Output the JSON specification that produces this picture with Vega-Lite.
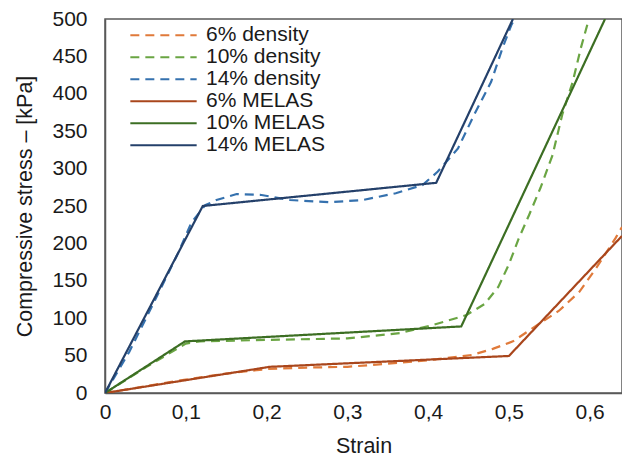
{
  "$schema": "https://vega.github.io/schema/vega-lite/v6.json",
  "width": 517,
  "height": 374,
  "autosize": "none",
  "padding": {"left": 105, "top": 19, "right": 0, "bottom": 67},
  "background": "white",
  "config": {
    "font": "Liberation Sans",
    "view": {"stroke": "#595959", "strokeWidth": 1.5},
    "axis": {"grid": false, "ticks": false, "domainColor": "#595959", "domainWidth": 1.5, "labelColor": "#1a1a1a", "titleColor": "#1a1a1a", "labelFontSize": 21, "titleFontSize": 21.5, "titleFontWeight": "normal", "labelFont": "Liberation Sans", "titleFont": "Liberation Sans"}
  },
  "data": {
    "values": [
      {"s": "6% density", "x": 0, "y": 0},
      {"s": "6% density", "x": 0.05, "y": 9},
      {"s": "6% density", "x": 0.1, "y": 18},
      {"s": "6% density", "x": 0.15, "y": 26},
      {"s": "6% density", "x": 0.2, "y": 32},
      {"s": "6% density", "x": 0.25, "y": 34},
      {"s": "6% density", "x": 0.3, "y": 35},
      {"s": "6% density", "x": 0.348, "y": 39},
      {"s": "6% density", "x": 0.402, "y": 44},
      {"s": "6% density", "x": 0.455, "y": 51},
      {"s": "6% density", "x": 0.48, "y": 59},
      {"s": "6% density", "x": 0.505, "y": 69},
      {"s": "6% density", "x": 0.534, "y": 90},
      {"s": "6% density", "x": 0.562, "y": 110},
      {"s": "6% density", "x": 0.587, "y": 135},
      {"s": "6% density", "x": 0.608, "y": 167},
      {"s": "6% density", "x": 0.632, "y": 207},
      {"s": "6% density", "x": 0.64, "y": 222},
      {"s": "10% density", "x": 0, "y": 0},
      {"s": "10% density", "x": 0.05, "y": 34},
      {"s": "10% density", "x": 0.1, "y": 66},
      {"s": "10% density", "x": 0.117, "y": 69},
      {"s": "10% density", "x": 0.2, "y": 71},
      {"s": "10% density", "x": 0.3, "y": 73},
      {"s": "10% density", "x": 0.365, "y": 80},
      {"s": "10% density", "x": 0.406, "y": 91},
      {"s": "10% density", "x": 0.447, "y": 104},
      {"s": "10% density", "x": 0.47, "y": 119},
      {"s": "10% density", "x": 0.487, "y": 142},
      {"s": "10% density", "x": 0.5, "y": 172},
      {"s": "10% density", "x": 0.512, "y": 206},
      {"s": "10% density", "x": 0.525, "y": 238},
      {"s": "10% density", "x": 0.539, "y": 274},
      {"s": "10% density", "x": 0.554, "y": 318},
      {"s": "10% density", "x": 0.566, "y": 372},
      {"s": "10% density", "x": 0.579, "y": 416},
      {"s": "10% density", "x": 0.589, "y": 461},
      {"s": "10% density", "x": 0.599, "y": 500},
      {"s": "14% density", "x": 0, "y": 0},
      {"s": "14% density", "x": 0.03, "y": 55},
      {"s": "14% density", "x": 0.06, "y": 120},
      {"s": "14% density", "x": 0.09, "y": 186},
      {"s": "14% density", "x": 0.107, "y": 228},
      {"s": "14% density", "x": 0.124, "y": 251},
      {"s": "14% density", "x": 0.138, "y": 258},
      {"s": "14% density", "x": 0.163, "y": 266},
      {"s": "14% density", "x": 0.192, "y": 265},
      {"s": "14% density", "x": 0.229, "y": 258},
      {"s": "14% density", "x": 0.278, "y": 255},
      {"s": "14% density", "x": 0.319, "y": 258},
      {"s": "14% density", "x": 0.36, "y": 267},
      {"s": "14% density", "x": 0.393, "y": 278},
      {"s": "14% density", "x": 0.412, "y": 296},
      {"s": "14% density", "x": 0.437, "y": 327},
      {"s": "14% density", "x": 0.457, "y": 372},
      {"s": "14% density", "x": 0.478, "y": 416},
      {"s": "14% density", "x": 0.492, "y": 461},
      {"s": "14% density", "x": 0.503, "y": 492},
      {"s": "14% density", "x": 0.507, "y": 500},
      {"s": "6% MELAS", "x": 0, "y": 0},
      {"s": "6% MELAS", "x": 0.204, "y": 35},
      {"s": "6% MELAS", "x": 0.5, "y": 49.5},
      {"s": "6% MELAS", "x": 0.64, "y": 210},
      {"s": "10% MELAS", "x": 0, "y": 0},
      {"s": "10% MELAS", "x": 0.099, "y": 69},
      {"s": "10% MELAS", "x": 0.441, "y": 89},
      {"s": "10% MELAS", "x": 0.619, "y": 500},
      {"s": "14% MELAS", "x": 0, "y": 0},
      {"s": "14% MELAS", "x": 0.121, "y": 250},
      {"s": "14% MELAS", "x": 0.41, "y": 281},
      {"s": "14% MELAS", "x": 0.505, "y": 500}
    ]
  },
  "mark": {"type": "line", "strokeWidth": 2.2, "clip": true},
  "encoding": {
    "x": {
      "field": "x", "type": "quantitative",
      "scale": {"domain": [0, 0.64], "nice": false},
      "axis": {"title": "Strain", "values": [0, 0.1, 0.2, 0.3, 0.4, 0.5, 0.6], "labelExpr": "replace(format(datum.value, '.1~f'), '.', ',')", "labelPadding": 8, "titlePadding": 13, "labelFlush": false}
    },
    "y": {
      "field": "y", "type": "quantitative",
      "scale": {"domain": [0, 500], "nice": false},
      "axis": {"title": "Compressive stress – [kPa]", "values": [0, 50, 100, 150, 200, 250, 300, 350, 400, 450, 500], "labelPadding": 18, "titlePadding": 15}
    },
    "color": {
      "field": "s", "type": "nominal",
      "scale": {
        "domain": ["6% density", "10% density", "14% density", "6% MELAS", "10% MELAS", "14% MELAS"],
        "range": ["#E07A3A", "#6AA543", "#3571AE", "#A9461C", "#3C6E23", "#24406A"]
      },
      "legend": {
        "title": null, "orient": "none", "legendX": 24, "legendY": 6,
        "symbolType": "stroke", "symbolSize": 4400, "symbolStrokeWidth": 2.2,
        "labelFontSize": 21, "labelColor": "#1a1a1a", "labelOffset": 8,
        "clipHeight": 20.5, "rowPadding": 0, "padding": 0
      }
    },
    "strokeDash": {
      "field": "s", "type": "nominal",
      "scale": {
        "domain": ["6% density", "10% density", "14% density", "6% MELAS", "10% MELAS", "14% MELAS"],
        "range": [[9, 6], [9, 6], [9, 6], [1, 0], [1, 0], [1, 0]]
      },
      "legend": {
        "title": null, "orient": "none", "legendX": 24, "legendY": 6,
        "symbolType": "stroke", "symbolSize": 4400, "symbolStrokeWidth": 2.2,
        "labelFontSize": 21, "labelColor": "#1a1a1a", "labelOffset": 8,
        "clipHeight": 20.5, "rowPadding": 0, "padding": 0
      }
    }
  }
}
